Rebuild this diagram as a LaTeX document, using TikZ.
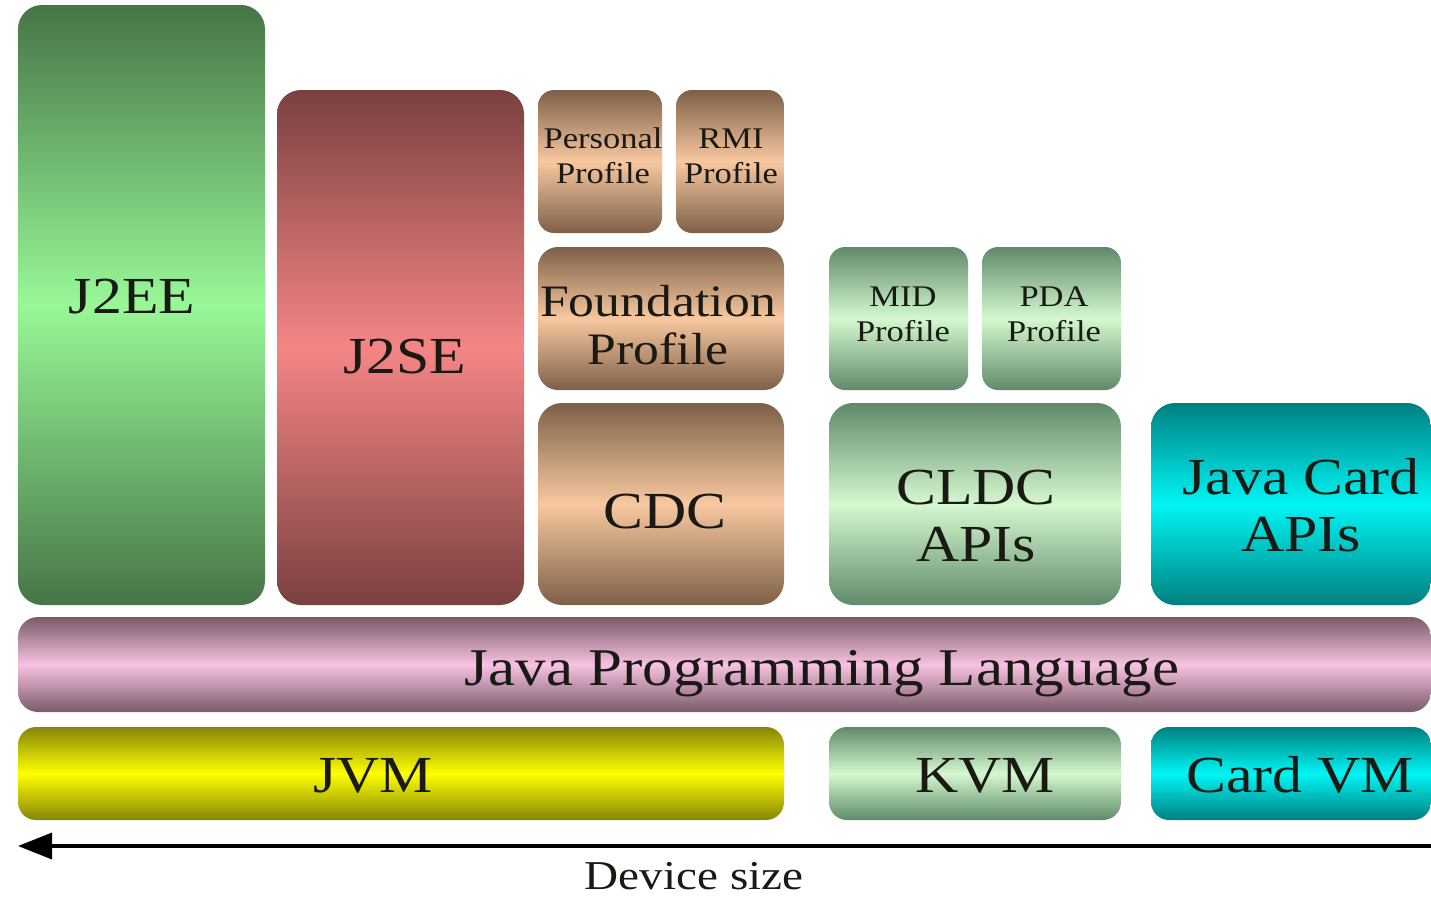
\documentclass[tikz,border=0pt]{standalone}
\usepackage{fontspec}
\setmainfont[FakeStretch=1.15]{Liberation Serif}
\usetikzlibrary{arrows.meta}
\definecolor{gD}{HTML}{467546}\definecolor{gL}{HTML}{98F898}
\definecolor{rD}{HTML}{7A4040}\definecolor{rL}{HTML}{F58585}
\definecolor{bD}{HTML}{7D6048}\definecolor{bL}{HTML}{F8C8A0}
\definecolor{mD}{HTML}{5F8A6A}\definecolor{mL}{HTML}{D5F8D0}
\definecolor{cD}{HTML}{008080}\definecolor{cL}{HTML}{00F5F5}
\definecolor{pD}{HTML}{7A5A6A}\definecolor{pL}{HTML}{F8C2E2}
\definecolor{yD}{HTML}{85850A}\definecolor{yL}{HTML}{FFFF00}
\definecolor{txt}{HTML}{1A1A14}
\begin{document}
\begin{tikzpicture}[x=1pt,y=-1pt,
  blk/.style={draw=none, inner sep=0pt, rounded corners=#1},
  blk/.default=24pt,
  shd/.style 2 args={top color=#1, bottom color=#1, middle color=#2},
  big/.style={text=txt, inner sep=0pt, font=\fontsize{52}{57}\selectfont, align=center},
  mid/.style={text=txt, inner sep=0pt, font=\fontsize{45}{48}\selectfont, align=center},
  sml/.style={text=txt, inner sep=0pt, font=\fontsize{30}{35}\selectfont, align=center}]
\useasboundingbox (0,0) rectangle (1431,897);
\fill[white] (0,0) rectangle (1431,897);

% boxes
\node[blk, shd={gD}{gL}, minimum width=247pt, minimum height=600pt] (j2ee) at (141.5,305) {};
\node[blk, shd={rD}{rL}, minimum width=247pt, minimum height=515pt] (j2se) at (400.5,347.5) {};
\node[blk=16pt, shd={bD}{bL}, minimum width=124pt, minimum height=143pt] (pp) at (600,161.5) {};
\node[blk=16pt, shd={bD}{bL}, minimum width=108pt, minimum height=143pt] (rmi) at (730,161.5) {};
\node[blk=20pt, shd={bD}{bL}, minimum width=246pt, minimum height=143pt] (fp) at (661,318.5) {};
\node[blk, shd={bD}{bL}, minimum width=246pt, minimum height=202pt] (cdc) at (661,504) {};
\node[blk=16pt, shd={mD}{mL}, minimum width=139pt, minimum height=143pt] (midp) at (898.5,318.5) {};
\node[blk=16pt, shd={mD}{mL}, minimum width=139pt, minimum height=143pt] (pda) at (1051.5,318.5) {};
\node[blk, shd={mD}{mL}, minimum width=292pt, minimum height=202pt] (cldc) at (975,504) {};
\node[blk, shd={cD}{cL}, minimum width=280pt, minimum height=202pt] (jc) at (1291,504) {};
\node[blk=20pt, shd={pD}{pL}, minimum width=1413pt, minimum height=95pt] (jpl) at (724.5,664.5) {};
\node[blk=18pt, shd={yD}{yL}, minimum width=766pt, minimum height=93pt] (jvm) at (401,773.5) {};
\node[blk=18pt, shd={mD}{mL}, minimum width=292pt, minimum height=93pt] (kvm) at (975,773.5) {};
\node[blk=18pt, shd={cD}{cL}, minimum width=280pt, minimum height=93pt] (cvm) at (1291,773.5) {};

% texts
\node[big, anchor=base] (tj2ee) at (132,313) {J2EE};
\node[big, anchor=base] (tj2se) at (405,373) {J2SE};
\node[sml] (tpp) at (603,156) {Personal\\Profile};
\node[sml] (trmi) at (731,156) {RMI\\Profile};
\node[mid] (tfp) at (658,325) {Foundation\\Profile};
\node[big, anchor=base] (tcdc) at (665,528) {CDC};
\node[sml] (tmid) at (903,314) {MID\\Profile};
\node[sml] (tpda) at (1054,314) {PDA\\Profile};
\node[big] (tcldc) at (976,516) {CLDC\\APIs};
\node[big] (tjc) at (1301,505) {Java Card\\APIs};
\node[big, anchor=base, font=\fontsize{53}{57}\selectfont] (tjpl) at (822,685) {Java Programming Language};
\node[big, anchor=base] (tjvm) at (373,792) {JVM};
\node[big, anchor=base] (tkvm) at (985,792) {KVM};
\node[big, anchor=base] (tcvm) at (1300,792) {Card VM};

% axis
\coordinate (aR) at (1431,846);
\coordinate (aL) at (18,846);
\draw[line width=3.5pt, -{Triangle[length=34pt,width=26pt]}] (aR) -- (aL);
\node[text=txt, inner sep=0pt, anchor=base, font=\fontsize{41}{45}\selectfont] (dev) at (694,889) {Device size};
\end{tikzpicture}
\end{document}
